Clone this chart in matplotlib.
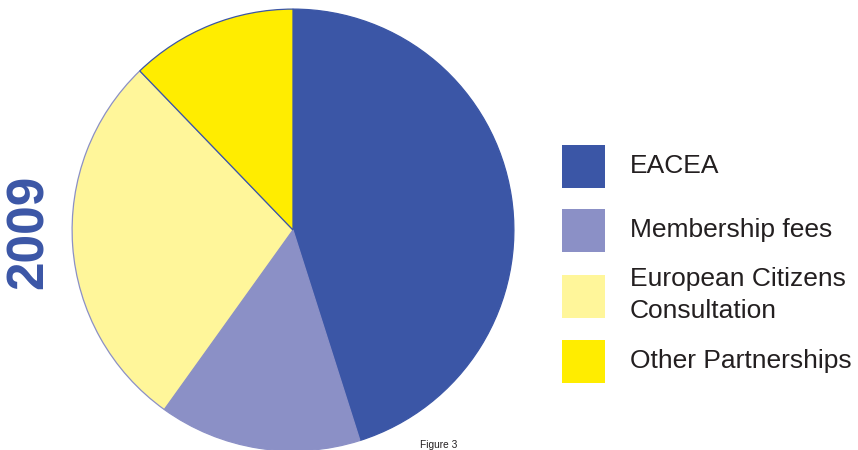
import matplotlib.pyplot as plt
from matplotlib.patches import Rectangle

labels = ['EACEA', 'Membership fees', 'European Citizens\nConsultation', 'Other Partnerships']
shares = [45.1, 14.8, 27.9, 12.2]
colors = ['#3B56A6', '#8B90C6', '#FFF69A', '#FFED00']
edges = ['#3B56A6', '#8B90C6', '#8B90C6', '#3B56A6']

plt.rcParams['font.family'] = ['Liberation Sans', 'DejaVu Sans']

fig = plt.figure(figsize=(8.58, 4.5), dpi=100)
W, H = 858, 450

# pie axes: circle from x=71..515, y=8..452 (px from top)
ax = fig.add_axes([71 / W, (H - 452) / H, 444 / W, 444 / H])
wedges, _ = ax.pie(shares, colors=colors, startangle=90, counterclock=False,
                   radius=1, wedgeprops=dict(linewidth=0.9))
for w, ec in zip(wedges, edges):
    w.set_edgecolor(ec)
ax.set_xlim(-1.005, 1.005)
ax.set_ylim(-1.005, 1.005)
ax.set_aspect('auto')
ax.axis('off')

# legend drawn by hand
rows_y = [166, 230, 295, 361]
for y, lab, col in zip(rows_y, labels, colors):
    fig.patches.append(Rectangle((562 / W, (H - 296 - 22) / H if '\n' in lab else (H - y - 22) / H),
                                 43 / W, 43 / H,
                                 transform=fig.transFigure, facecolor=col,
                                 edgecolor='none'))
    fig.text(630 / W, (H - y) / H, lab, fontsize=19, color='#231F20',
             va='center', ha='left', linespacing=1.45)

fig.text(29 / W, (H - 232) / H, '2009', rotation=90, fontsize=37,
         fontweight='bold', color='#3B56A6', ha='center', va='center')
fig.text(439 / W, (H - 445) / H, 'Figure 3', fontsize=7.3, color='#231F20',
         ha='center', va='center')

fig.savefig('out.png', dpi=100)
